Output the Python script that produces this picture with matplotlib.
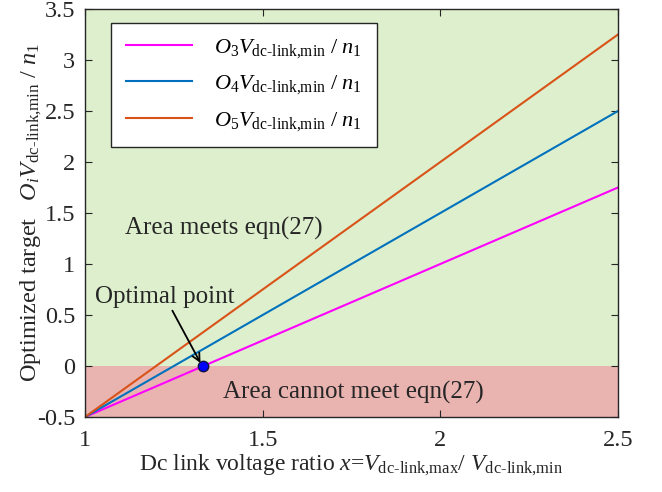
import matplotlib
matplotlib.use("Agg")
import matplotlib.pyplot as plt
import numpy as np

plt.rcParams['font.family'] = ['Liberation Serif', 'DejaVu Serif']
plt.rcParams['mathtext.fontset'] = 'custom'
plt.rcParams['mathtext.rm'] = 'Liberation Serif'
plt.rcParams['mathtext.it'] = 'Liberation Serif:italic'
plt.rcParams['mathtext.bf'] = 'Liberation Serif:bold'

# Data
x_vals = [1.0, 2.5]
o3_vals = [-0.5, 1.75]
o4_vals = [-0.5, 2.5]
o5_vals = [-0.5, 3.25]
labels = [r'$O_3V_{\text{dc-link,min}}\ /\ n_1$',
          r'$O_4V_{\text{dc-link,min}}\ /\ n_1$',
          r'$O_5V_{\text{dc-link,min}}\ /\ n_1$']
colors = ['#FF00FF', '#0072BD', '#D95319']
opt_x, opt_y = 1.333, 0.0
x_ticks = [1, 1.5, 2, 2.5]
x_ticklabels = ['1', '1.5', '2', '2.5']
y_ticks = [-0.5, 0, 0.5, 1, 1.5, 2, 2.5, 3, 3.5]
y_ticklabels = ['-0.5', '0', '0.5', '1', '1.5', '2', '2.5', '3', '3.5']

fig = plt.figure(figsize=(6.62, 4.92), dpi=100)
ax = fig.add_axes([85/662, 1-417/492, 533/662, 408/492])

ax.axhspan(0, 3.5, color='#DDEFCC', zorder=0, lw=0)
ax.axhspan(-0.5, 0, color='#E9B3B0', zorder=0, lw=0)

for yv, lab, c in zip([o3_vals, o4_vals, o5_vals], labels, colors):
    ax.plot(x_vals, yv, color=c, lw=1.5, label=lab, zorder=2)

ax.plot([opt_x], [opt_y], 'o', color='#0000FF', markeredgecolor='#101040',
        markersize=7.5, zorder=4)

ax.annotate('Optimal point', xy=(opt_x - 0.008, opt_y + 0.03), xytext=(1.225, 0.57),
            fontsize=18, ha='center', va='bottom', color='#262626',
            arrowprops=dict(arrowstyle='->', color='black', lw=1.3,
                            shrinkA=0, shrinkB=0, mutation_scale=14))
ax.text(1.113, 1.35, 'Area meets eqn(27)', fontsize=18, color='#262626', va='center')
ax.text(1.388, -0.255, 'Area cannot meet eqn(27)', fontsize=18, color='#262626', va='center')

ax.set_xlim(1, 2.5)
ax.set_ylim(-0.5, 3.5)
ax.set_xticks(x_ticks)
ax.set_xticklabels(x_ticklabels)
ax.set_yticks(y_ticks)
ax.set_yticklabels(y_ticklabels)
ax.tick_params(direction='in', top=True, right=True, length=5, width=0.8,
               labelsize=17.5, colors='#262626')
ax.tick_params(axis='x', pad=9)
ax.tick_params(axis='y', pad=7)
for s in ax.spines.values():
    s.set_color('#262626')
    s.set_linewidth(1.0)

ax.set_xlabel(r'Dc link voltage ratio $x$=$V_{\text{dc-link,max}}$/ $V_{\text{dc-link,min}}$',
              fontsize=17, color='#262626', labelpad=2)
ax.set_ylabel(r'Optimized target   $O_iV_{\text{dc-link,min}}\ /\ n_1$',
              fontsize=17.5, color='#262626', labelpad=-5)

leg = ax.legend(loc='upper left', bbox_to_anchor=(0.049, 0.966), borderaxespad=0,
                fontsize=16, handlelength=3.0, handletextpad=1.0, labelspacing=0.6,
                fancybox=False, framealpha=1, edgecolor='#262626', borderpad=0.65)
leg.get_frame().set_linewidth(1.0)

fig.savefig('out.png', dpi=100)
